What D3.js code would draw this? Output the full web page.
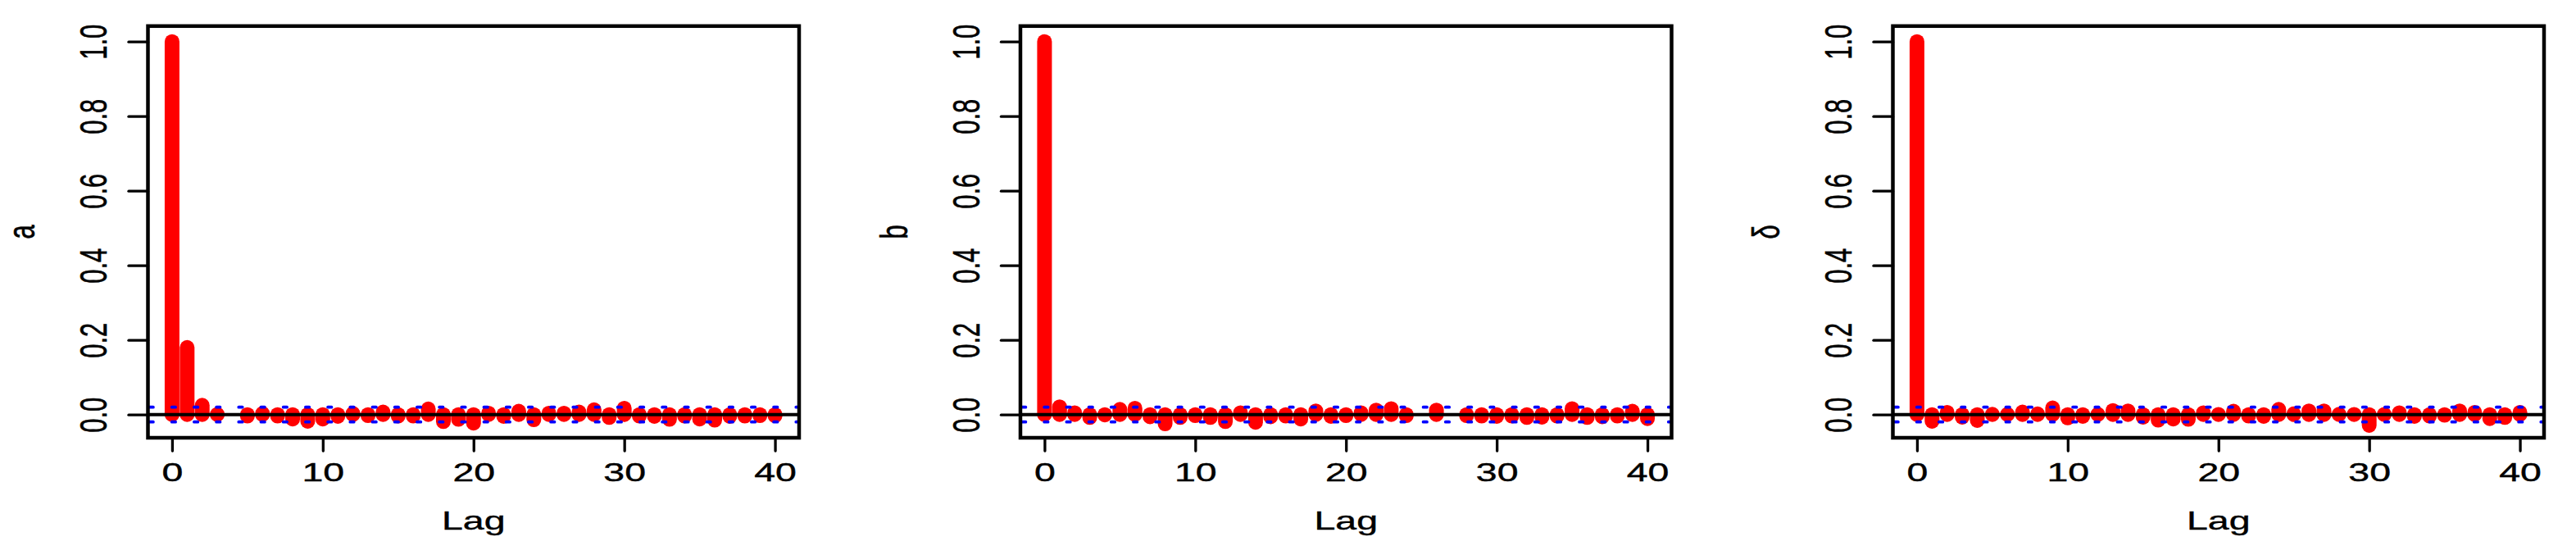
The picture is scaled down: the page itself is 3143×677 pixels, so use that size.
<!DOCTYPE html>
<html>
<head>
<meta charset="utf-8">
<script src="https://cdn.jsdelivr.net/npm/d3@7"></script>
<style>
  body { margin: 0; background: #fff; }
  svg { display: block; }
</style>
</head>
<body>
<div id="chart"></div>
<script>
(function() {
'use strict';

// autocorrelation of the three chains, lag 0..40 (null = nothing drawn)
const lags = [0, 1, 2, 3, 4, 5, 6, 7, 8, 9, 10, 11, 12, 13, 14, 15, 16, 17, 18, 19, 20,
  21, 22, 23, 24, 25, 26, 27, 28, 29, 30, 31, 32, 33, 34, 35, 36, 37, 38, 39, 40];

const acfA = [1.0, 0.18, 0.025, 0.0005, null, -0.004, 0.003, -0.004, -0.012, -0.018, -0.012,
  -0.005, 0.003, -0.003, 0.007, -0.004, -0.004, 0.015, -0.019, -0.013, -0.023,
  0.004, -0.005, 0.009, -0.014, 0.004, 0.004, 0.007, 0.013, -0.008, 0.017,
  -0.004, -0.005, -0.013, -0.004, -0.012, -0.015, -0.005, -0.004, -0.003, -0.003];

const acfB = [1.0, 0.021, 0.005, -0.008, -0.001, 0.014, 0.017, -0.006, -0.025, -0.008, -0.003,
  -0.008, -0.019, 0.005, -0.021, -0.006, -0.004, -0.012, 0.010, -0.005, -0.003,
  0.005, 0.012, 0.016, -0.003, null, 0.012, null, -0.003, -0.004, -0.005,
  -0.004, -0.008, -0.007, -0.004, 0.016, -0.008, -0.006, -0.004, 0.009, -0.011];

const acfDelta = [1.0, -0.018, 0.006, -0.007, -0.016, 0.001, 0.001, 0.007, 0.002, 0.018, -0.009,
  -0.005, 0.001, 0.011, 0.010, -0.007, -0.015, -0.012, -0.013, 0.005, 0.0005,
  0.009, -0.004, -0.005, 0.014, 0.002, 0.010, 0.010, 0.001, 0.0005, -0.029,
  0.0005, 0.005, -0.005, -0.004, -0.002, 0.010, 0.006, -0.011, -0.008, 0.006];

const panelLabels = ['a', 'b', 'δ'];
const xTicks = [0, 10, 20, 30, 40];
const yTicks = [0, 0.2, 0.4, 0.6, 0.8, 1.0];
const yTickLabels = ['0.0', '0.2', '0.4', '0.6', '0.8', '1.0'];
const ciBound = 0.0198;

const width = 3143;
const height = 677;
const panelStep = 1064.5;
const box = {left: 180.5, right: 975, top: 31.8, bottom: 534};
const textStretch = 1.5;
const fontSize = 31;
const fontFamily = '"Liberation Sans", Arial, Helvetica, sans-serif';

const svg = d3.select('#chart')
  .append('svg')
  .attr('width', width)
  .attr('height', height);

svg.append('rect')
  .attr('width', width)
  .attr('height', height)
  .attr('fill', '#fff');

const x = d3.scaleLinear().domain([-1.6, 41.6]).range([box.left, box.right]);
const y = d3.scaleLinear().domain([-0.0622, 1.0415]).range([box.bottom, box.top]);

svg.append('defs')
  .append('clipPath')
  .attr('id', 'plotClip')
  .append('rect')
  .attr('x', box.left)
  .attr('y', box.top)
  .attr('width', box.right - box.left)
  .attr('height', box.bottom - box.top);

[acfA, acfB, acfDelta].forEach(function(series, i) {
  drawPanel(series, panelLabels[i], i * panelStep);
});

function drawPanel(series, label, offset) {
  const g = svg.append('g')
    .attr('transform', 'translate(' + offset + ',0)');

  const points = lags
    .map(function(lag, i) { return {lag: lag, value: series[i]}; })
    .filter(function(d) { return d.value !== null; });

  // acf spikes
  g.selectAll('.spike')
    .data(points)
    .enter()
    .append('line')
    .attr('class', 'spike')
    .attr('x1', function(d) { return x(d.lag); })
    .attr('x2', function(d) { return x(d.lag); })
    .attr('y1', y(0))
    .attr('y2', function(d) { return y(d.value); })
    .attr('stroke', '#ff0000')
    .attr('stroke-width', 18)
    .attr('stroke-linecap', 'round');

  g.append('line')
    .attr('x1', box.left)
    .attr('x2', box.right)
    .attr('y1', y(0))
    .attr('y2', y(0))
    .attr('stroke', '#000')
    .attr('stroke-width', 4);

  // confidence bounds
  g.append('g')
    .attr('clip-path', 'url(#plotClip)')
    .selectAll('.ci')
    .data([ciBound, -ciBound])
    .enter()
    .append('line')
    .attr('class', 'ci')
    .attr('x1', box.left + 2)
    .attr('x2', box.right + 10)
    .attr('y1', function(d) { return y(d); })
    .attr('y2', function(d) { return y(d); })
    .attr('stroke', '#0000ff')
    .attr('stroke-width', 3.8)
    .attr('stroke-dasharray', '4.4 22.8')
    .attr('stroke-linecap', 'round');

  g.append('rect')
    .attr('x', box.left)
    .attr('y', box.top)
    .attr('width', box.right - box.left)
    .attr('height', box.bottom - box.top)
    .attr('fill', 'none')
    .attr('stroke', '#000')
    .attr('stroke-width', 4.5);

  const xAxis = g.append('g')
    .attr('transform', 'translate(0,' + box.bottom + ')')
    .call(d3.axisBottom(x).tickValues(xTicks).tickSize(16).tickFormat(d3.format('d')));
  xAxis.select('.domain').remove();
  xAxis.attr('font-family', fontFamily).attr('font-size', fontSize);
  xAxis.selectAll('.tick line')
    .attr('stroke', '#000')
    .attr('stroke-width', 3.3)
    .attr('stroke-linecap', 'round');
  xAxis.selectAll('.tick text')
    .attr('y', null)
    .attr('dy', null)
    .attr('fill', '#000')
    .attr('stroke', '#000')
    .attr('stroke-width', 0.4)
    .attr('transform', 'translate(0,' + (587 - box.bottom) + ') scale(' + textStretch + ',1)');

  const yAxis = g.append('g')
    .attr('transform', 'translate(' + box.left + ',0)')
    .call(d3.axisLeft(y).tickValues(yTicks).tickSize(23.5)
      .tickFormat(function(d, i) { return yTickLabels[i]; }));
  yAxis.select('.domain').remove();
  yAxis.attr('font-family', fontFamily).attr('font-size', fontSize).attr('text-anchor', 'middle');
  yAxis.selectAll('.tick line')
    .attr('stroke', '#000')
    .attr('stroke-width', 3.3)
    .attr('stroke-linecap', 'round');
  yAxis.selectAll('.tick text')
    .attr('x', null)
    .attr('dy', null)
    .attr('fill', '#000')
    .attr('stroke', '#000')
    .attr('stroke-width', 0.4)
    .attr('transform', 'translate(' + (130 - box.left) + ',0) scale(' + textStretch + ',1) rotate(-90)');

  g.append('text')
    .attr('transform', 'translate(' + ((box.left + box.right) / 2) + ',646) scale(' + textStretch + ',1)')
    .attr('text-anchor', 'middle')
    .attr('font-family', fontFamily)
    .attr('font-size', fontSize)
    .attr('stroke', '#000')
    .attr('stroke-width', 0.4)
    .text('Lag');

  g.append('text')
    .attr('transform', 'translate(42,' + ((box.top + box.bottom) / 2) + ') scale(' + textStretch + ',1) rotate(-90)')
    .attr('text-anchor', 'middle')
    .attr('font-family', fontFamily)
    .attr('font-size', fontSize)
    .attr('stroke', '#000')
    .attr('stroke-width', 0.4)
    .text(label);
}

})();
</script>
</body>
</html>
